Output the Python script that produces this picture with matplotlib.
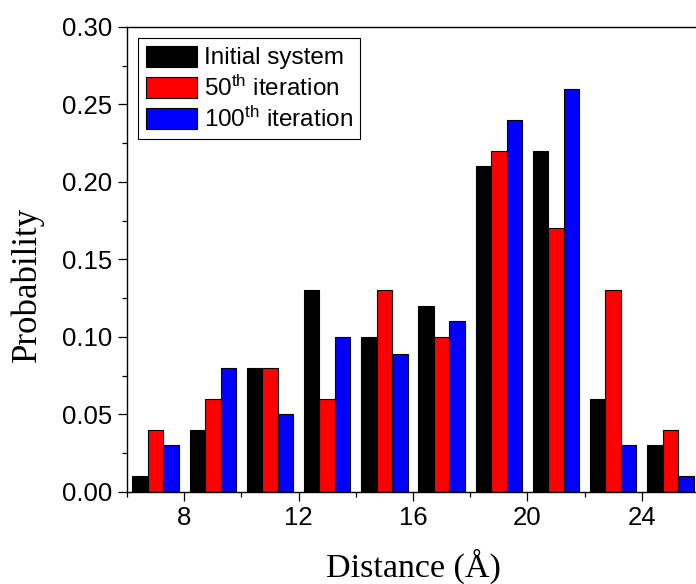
import numpy as np
import matplotlib
matplotlib.use("Agg")
import matplotlib.pyplot as plt
from matplotlib.ticker import MultipleLocator, FormatStrFormatter

# Distance bins (bin centres, in Å)
distance = [7, 9, 11, 13, 15, 17, 19, 21, 23, 25]

initial = [0.01, 0.04, 0.08, 0.13, 0.10, 0.12, 0.21, 0.22, 0.06, 0.03]
iter_50 = [0.04, 0.06, 0.08, 0.06, 0.13, 0.10, 0.22, 0.17, 0.13, 0.04]
iter_100 = [0.03, 0.08, 0.05, 0.10, 0.089, 0.11, 0.24, 0.26, 0.03, 0.01]

series_labels = ["Initial system", "$50^{th}$ iteration", "$100^{th}$ iteration"]
series_colors = ["#000000", "#ff0000", "#0000ff"]

plt.rcParams["font.family"] = ["Liberation Sans", "DejaVu Sans"]
plt.rcParams["mathtext.default"] = "regular"

W, H = 696, 584
fig = plt.figure(figsize=(W / 100, H / 100), dpi=100)
ax_left, ax_right, ax_top, ax_bottom = 127, 699, 27, 491.7
ax = fig.add_axes([ax_left / W, 1 - ax_bottom / H,
                   (ax_right - ax_left) / W, (ax_bottom - ax_top) / H])

x = np.array(distance, dtype=float)
w = 0.54
for k, (vals, lab, col) in enumerate(zip([initial, iter_50, iter_100],
                                          series_labels, series_colors)):
    ax.bar(x + (k - 1) * w, vals, width=w, color=col, edgecolor="black",
           linewidth=0.8, label=lab)

ax.set_xlim(6, 26)
ax.set_ylim(0, 0.30)

ax.xaxis.set_major_locator(MultipleLocator(4))
ax.xaxis.set_minor_locator(MultipleLocator(2))
ax.yaxis.set_major_locator(MultipleLocator(0.05))
ax.yaxis.set_minor_locator(MultipleLocator(0.025))
ax.yaxis.set_major_formatter(FormatStrFormatter("%.2f"))

ax.tick_params(which="major", direction="out", length=6.5, width=0.9,
               labelsize=18.5, pad=4)
ax.tick_params(which="minor", direction="out", length=3.5, width=0.9)
ax.tick_params(axis="x", which="both", top=False)
ax.tick_params(axis="y", which="both", right=False)

for side in ["left", "bottom", "top"]:
    ax.spines[side].set_linewidth(1.0)
ax.spines["right"].set_visible(False)

ax.set_xlabel("Distance (Å)", fontsize=24.5, family="Liberation Serif", labelpad=13)
ax.set_ylabel("Probability", fontsize=25, family="Liberation Serif")
ax.yaxis.set_label_coords(-0.146, 0.445)

leg = ax.legend(loc="upper left", bbox_to_anchor=(0.0198, 0.9757),
                borderaxespad=0, fontsize=17.5, fancybox=False,
                edgecolor="black", framealpha=1, handlelength=2.1,
                handleheight=0.95, handletextpad=0.3, labelspacing=0.25,
                borderpad=0.3)
leg.get_frame().set_linewidth(0.8)

fig.savefig("out.png", dpi=100)
